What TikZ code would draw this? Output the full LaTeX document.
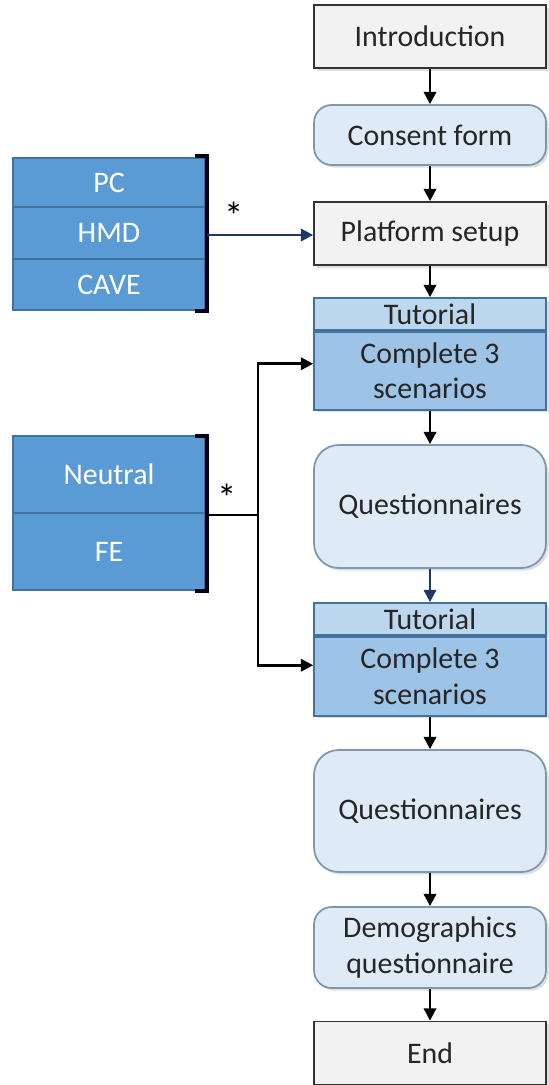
\documentclass[tikz,border=0pt]{standalone}
\usepackage{fontspec}
\setmainfont{Carlito}
\usepackage{xcolor}
\usetikzlibrary{arrows.meta,shadows}

\definecolor{boxgray}{HTML}{F2F2F2}
\definecolor{paleblue}{HTML}{DEEBF7}
\definecolor{tutblue}{HTML}{BDD7EE}
\definecolor{taskblue}{HTML}{9DC3E6}
\definecolor{condblue}{HTML}{5B9BD5}
\definecolor{condedge}{HTML}{41719C}
\definecolor{softedge}{HTML}{7F97AD}
\definecolor{navy}{HTML}{1F3864}
\definecolor{inktext}{HTML}{262626}

\tikzset{
  stage/.style={draw=black!80, fill=boxgray, line width=1pt, minimum width=4.64cm,
    inner sep=0pt, align=center, text=inktext, font=\fontsize{17}{20}\selectfont,
    drop shadow={opacity=0.25, shadow xshift=1.5pt, shadow yshift=-1.5pt}},
  softstage/.style={stage, fill=paleblue, draw=softedge, rounded corners=10pt},
  tuthead/.style={stage, fill=tutblue, draw=condedge, minimum height=0.64cm},
  tutbody/.style={stage, fill=taskblue, draw=condedge, anchor=north},
  cond/.style={draw=condedge, fill=condblue, line width=0.8pt, minimum width=3.84cm,
    inner sep=0pt, text=white, font=\fontsize{17}{20}\selectfont},
  bracket/.style={line width=2.2pt, draw=black!90!blue},
  flow/.style={line width=1.6pt, -{Triangle[length=7pt,width=7pt]}},
  navyflow/.style={flow, draw=navy, fill=navy},
  star/.style={font=\fontsize{22}{24}\selectfont}
}

\begin{document}
\begin{tikzpicture}[x=0.02cm, y=-0.02cm]
  \useasboundingbox (0,0) rectangle (548,1085);

  % main sequence
  \node[stage, minimum height=1.26cm] (intro) at (430,36.5) {Introduction};
  \node[softstage, minimum height=1.2cm] (consent) at (430,135) {Consent form};
  \node[stage, minimum height=1.26cm] (platform) at (430,233.5) {Platform setup};

  \node[tuthead] (tuthead1) at (430,314) {Tutorial};
  \node[tutbody, minimum height=1.56cm] (tutbody1) at (tuthead1.south) {Complete 3\\scenarios};
  \node[softstage, minimum height=2.46cm, rounded corners=14pt] (quest1) at (430,506.5) {Questionnaires};

  \node[tuthead] (tuthead2) at (430,619) {Tutorial};
  \node[tutbody, minimum height=1.58cm] (tutbody2) at (tuthead2.south) {Complete 3\\scenarios};
  \node[softstage, minimum height=2.44cm, rounded corners=14pt] (quest2) at (430,811) {Questionnaires};

  \node[softstage, minimum height=1.62cm] (demo) at (430,947.5) {Demographics\\questionnaire};
  \node[stage, minimum height=1.26cm] (end) at (430,1053) {End};

  \draw[flow] (intro) -- (consent);
  \draw[flow] (consent) -- (platform);
  \draw[flow] (platform) -- (tuthead1);
  \draw[flow] (tutbody1) -- (quest1);
  \draw[navyflow] (quest1) -- (tuthead2);
  \draw[flow] (tutbody2) -- (quest2);
  \draw[flow] (quest2) -- (demo);
  \draw[flow] (demo) -- (end);

  % platforms
  \node[cond, minimum height=0.98cm] (pc) at (109,182.5) {PC};
  \node[cond, minimum height=1.04cm] (hmd) at (109,233) {HMD};
  \node[cond, minimum height=1.02cm] (cave) at (109,284.5) {CAVE};
  \draw[bracket] (195,156) -- (207,156) -- (207,311) -- (195,311);
  \coordinate (devjoin) at (207,235);
  \draw[navyflow] (devjoin) -- (devjoin -| platform.west);
  \node[star] (devstar) at (234,216) {*};

  % conditions
  \node[cond, minimum height=1.54cm] (neutral) at (109,474.5) {Neutral};
  \node[cond, minimum height=1.54cm] (fe) at (109,551.5) {FE};
  \draw[bracket] (195,436) -- (207,436) -- (207,591) -- (195,591);
  \coordinate (moodjoin) at (207,515);
  \coordinate (fork) at (258,515);
  \draw[line width=1.6pt] (moodjoin) -- (fork);
  \draw[flow] (fork) |- ([yshift=0.14cm]tutbody1.west);
  \draw[flow] (fork) |- ([yshift=0.22cm]tutbody2.west);
  \node[star] (moodstar) at (227,498) {*};
\end{tikzpicture}
\end{document}
